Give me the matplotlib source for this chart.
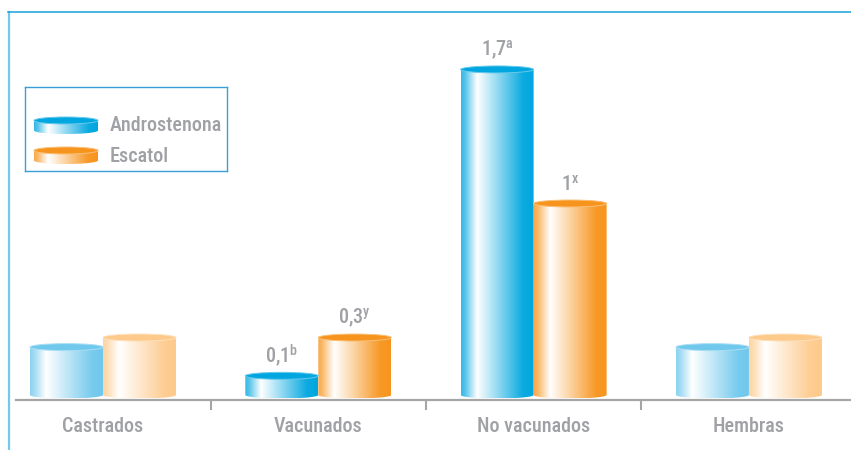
import numpy as np
import matplotlib
matplotlib.use("Agg")
import matplotlib.pyplot as plt
from matplotlib.patches import Ellipse, PathPatch
from matplotlib.path import Path
from matplotlib.colors import to_rgb
from matplotlib.lines import Line2D

# ---- data -------------------------------------------------------------
categories = ["Castrados", "Vacunados", "No vacunados", "Hembras"]
series = ["Androstenona", "Escatol"]
androstenona = [0.25, 0.1, 1.7, 0.25]
escatol = [0.3, 0.3, 1.0, 0.3]
labels_androstenona = [None, r"0,1$^{\mathrm{b}}$", r"1,7$^{\mathrm{a}}$", None]
labels_escatol = [None, r"0,3$^{\mathrm{y}}$", r"1$^{\mathrm{x}}$", None]
highlighted = [False, True, True, False]

# ---- style ------------------------------------------------------------
FONT = ["Roboto Condensed", "DejaVu Sans"]
plt.rcParams["font.family"] = FONT
plt.rcParams["font.weight"] = "medium"
plt.rcParams["mathtext.fontset"] = "custom"
plt.rcParams["mathtext.rm"] = "Roboto Condensed:medium"
TEXT = "#a0a1a5"
AXIS = "#a5a5a5"
FS = 14.5
BLUE_STRONG, BLUE_LIGHT = "#00a6df", "#70c8ec"
ORANGE_STRONG, ORANGE_LIGHT = "#f7941d", "#fdca8c"

W, H, DPI = 851, 450, 100
fig = plt.figure(figsize=(W / DPI, H / DPI), dpi=DPI)


def shade(color, n=256):
    """Horizontal highlight: coloured rim, white sheen, colour again on the right."""
    t = np.linspace(0, 1, n)
    m = np.interp(t, [0, 0.06, 0.22, 0.32, 0.85, 1.0],
                  [0.8, 0.65, 0.0, 0.15, 0.95, 1.0])
    c = np.array(to_rgb(color))
    rgb = 1 - m[:, None] * (1 - c[None, :])
    return rgb[None, :, :]


def cylinder(ax, xc, w, y0, y1, color, ry):
    x0, x1 = xc - w / 2, xc + w / 2
    th = np.linspace(np.pi, 2 * np.pi, 80)
    arc = np.column_stack([xc + w / 2 * np.cos(th), y0 + ry * np.sin(th)])
    verts = np.vstack([[x0, y1], arc, [x1, y1], [x0, y1]])
    codes = [Path.MOVETO] + [Path.LINETO] * (len(verts) - 2) + [Path.CLOSEPOLY]
    body = PathPatch(Path(verts, codes), facecolor="none", edgecolor="none")
    ax.add_patch(body)
    im = ax.imshow(shade(color), extent=[x0, x1, y0 - ry, y1], aspect="auto",
                   interpolation="bilinear", zorder=2)
    im.set_clip_path(body)
    rim = 1 - 0.6 * (1 - np.array(to_rgb(color)))
    ax.add_patch(Ellipse((xc, y1), w, 2 * ry, facecolor=color, edgecolor=rim,
                         lw=0.7, zorder=3))


# ---- main axes --------------------------------------------------------
ax_left, ax_bottom, ax_top = 16, 400, 12
ax = fig.add_axes([ax_left / W, 1 - ax_bottom / H, 1 - ax_left / W,
                   (ax_bottom - ax_top) / H])
px_per_unit = 191.5
ymin = -5 / px_per_unit
ymax = (395 - ax_top) / px_per_unit
ry = 3.5 / px_per_unit
xmin, xmax = -0.404, 3.474
bar_w = 0.339

x = np.arange(len(categories))
for i in range(len(categories)):
    cols = ((BLUE_STRONG, ORANGE_STRONG) if highlighted[i]
            else (BLUE_LIGHT, ORANGE_LIGHT))
    for k, (vals, labs) in enumerate(((androstenona, labels_androstenona),
                                      (escatol, labels_escatol))):
        xc = x[i] + (k - 0.5) * bar_w
        cylinder(ax, xc, bar_w, 0, vals[i], cols[k], ry)
        if labs[i]:
            ax.annotate(labs[i], (xc, vals[i]), xytext=(0, 9.5),
                        textcoords="offset points", ha="center", va="baseline",
                        fontsize=FS, color=TEXT)

ax.set_xlim(xmin, xmax)
ax.set_ylim(ymin, ymax)
for s in ("left", "right", "top"):
    ax.spines[s].set_visible(False)
ax.spines["bottom"].set_color(AXIS)
ax.spines["bottom"].set_linewidth(1.6)
ax.set_yticks([])
ax.set_xticks(x, categories)
ax.set_xticks(x[:-1] + 0.5, minor=True)
ax.tick_params(axis="x", which="major", length=0, pad=12, labelsize=FS,
               labelcolor=TEXT)
ax.tick_params(axis="x", which="minor", length=7.5, width=1.5, color=AXIS,
               direction="out")
ax.patch.set_alpha(0)

# ---- legend -----------------------------------------------------------
lx0, ly0, lx1, ly1 = 25, 87, 227, 171
lax = fig.add_axes([lx0 / W, 1 - ly1 / H, (lx1 - lx0) / W, (ly1 - ly0) / H])
lax.set_xticks([])
lax.set_yticks([])
for s in lax.spines.values():
    s.set_color("#3a9fd8")
    s.set_linewidth(1.0)
for name, col, (top, bot, base) in zip(series, (BLUE_STRONG, ORANGE_STRONG),
                                      ((120.5, 130.5, 131), (150.5, 160.5, 162))):
    cylinder(lax, 41, 64, ly1 - bot, ly1 - top, col, 3.5)
    lax.text(85, ly1 - base, name, fontsize=FS, color=TEXT, va="baseline",
             ha="left")
lax.set_xlim(0, lx1 - lx0)
lax.set_ylim(0, ly1 - ly0)

# ---- frame ------------------------------------------------------------
fig.add_artist(Line2D([8.5 / W, 8.5 / W], [0, 1 - 12 / H],
                      transform=fig.transFigure, color="#72c8ee", lw=1.6))
fig.add_artist(Line2D([8 / W, 1], [1 - 12 / H, 1 - 12 / H],
                      transform=fig.transFigure, color="#1a9fdb", lw=1.1))

fig.savefig("out.png", dpi=DPI)
